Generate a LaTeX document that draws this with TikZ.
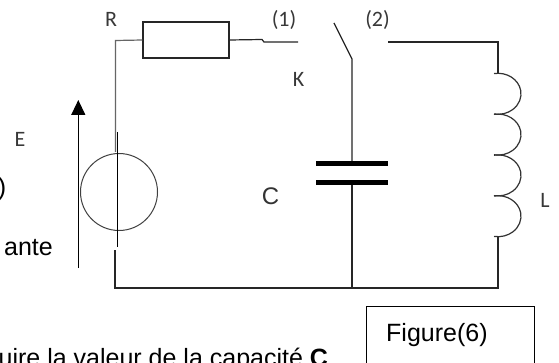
\documentclass[tikz,border=0pt]{standalone}
\usepackage{fontspec}
\setmainfont{Liberation Sans}
\newfontfamily\calib{Carlito}
\usetikzlibrary{arrows.meta}
\begin{document}
\begin{tikzpicture}[x=1pt,y=-1pt,
  wire/.style={line width=1.2pt, draw=black!85},
  lbl/.style={font=\calib\fontsize{22}{22}\selectfont, text=black!78, inner sep=0pt, anchor=base},
  txt/.style={font=\fontsize{25}{25}\selectfont, text=black, inner sep=0pt},
  plate/.style={line width=5pt, draw=black},
  coilarc/.style={line width=1.2pt, draw=black!80}
]
\clip (0,0) rectangle (559,363);
\fill[white] (0,0) rectangle (559,363);

% resistor
\node[draw=black!85, line width=1.2pt, minimum width=86pt, minimum height=36pt, inner sep=0pt] (R) at (186,40) {};

% coordinates
\coordinate (tl) at (115.5,40.5);
\coordinate (srcTop) at (115.5,152);
\coordinate (rs) at (262,39.5);
\coordinate (rs2) at (264,42);
\coordinate (t1) at (298,42);
\coordinate (piv) at (352,59);
\coordinate (blade) at (334,23);
\coordinate (t2) at (388,42);
\coordinate (tr) at (498,42);
\coordinate (coilTop) at (498,73.3);
\coordinate (coilBot) at (498,237);
\coordinate (br) at (498,288);
\coordinate (bm) at (352,288);
\coordinate (bl) at (115,288);
\coordinate (srcBotWire) at (115,250);
\coordinate (capTop) at (352,161);
\coordinate (capBot) at (352,184.5);
\coordinate (sA) at (117.5,132);
\coordinate (sB) at (117.5,247);
\coordinate (eA) at (78.3,268);
\coordinate (eB) at (78.3,100);

% source
\node[draw=black!75, line width=1pt, circle, minimum size=77pt, inner sep=0pt] (src) at (119,192) {};
\draw[line width=1.5pt, draw=black] (sA) -- (sB);

% wires
\draw[wire, draw=black!60] (R.west) -- (tl) -- (srcTop);
\draw[wire] (R.east) -- (rs) -- (rs2) -- (t1);
\draw[wire] (blade) -- (piv) -- (capTop);
\draw[wire] (t2) -- (tr) -- (coilTop);
\draw[wire] (coilBot) -- (br) -- (bm) -- (bl) -- (srcBotWire);
\draw[wire] (capBot) -- (bm);

% capacitor
\coordinate (p1l) at (316,163.3);
\coordinate (p1r) at (388,163.3);
\coordinate (p2l) at (316,182.3);
\coordinate (p2r) at (388,182.3);
\draw[plate] (p1l) -- (p1r);
\draw[plate] (p2l) -- (p2r);

% inductor
\foreach \cy in {93.8,134.6,175.4,216.2}{
  \draw[coilarc] (498,\cy) ++(-100:23 and 20.5) arc[start angle=-100, end angle=100, x radius=23, y radius=20.5];
}

% arrow E
\draw[line width=1.3pt, -{Triangle[length=15pt,width=14pt]}] (eA) -- (eB);

% labels
\node[lbl] (lR) at (111,27) {R};
\node[lbl] (l1) at (284,27) {(1)};
\node[lbl] (l2) at (377.5,27) {(2)};
\node[lbl] (lK) at (298.5,87) {K};
\node[lbl] (lE) at (20,147) {E};
\node[lbl] (lL) at (545,208) {L};
\node[font=\fontsize{24}{24}\selectfont, text=black!80, inner sep=0pt, anchor=base] (lC) at (270.5,205) {C};

% clipped texts
\node[txt, anchor=base east] (paren) at (6.5,196) {)};
\node[txt, anchor=base east] (ante) at (53,255) {ante};
\node[txt, anchor=base west] (bottom) at (-1.5,366) {uire la valeur de la capacité \textbf{C}};

% figure box
\draw[line width=1pt] (366.7,306) rectangle (534,380);
\node[txt, anchor=base west] (fig) at (386,341.7) {Figure(6)};
\end{tikzpicture}
\end{document}
